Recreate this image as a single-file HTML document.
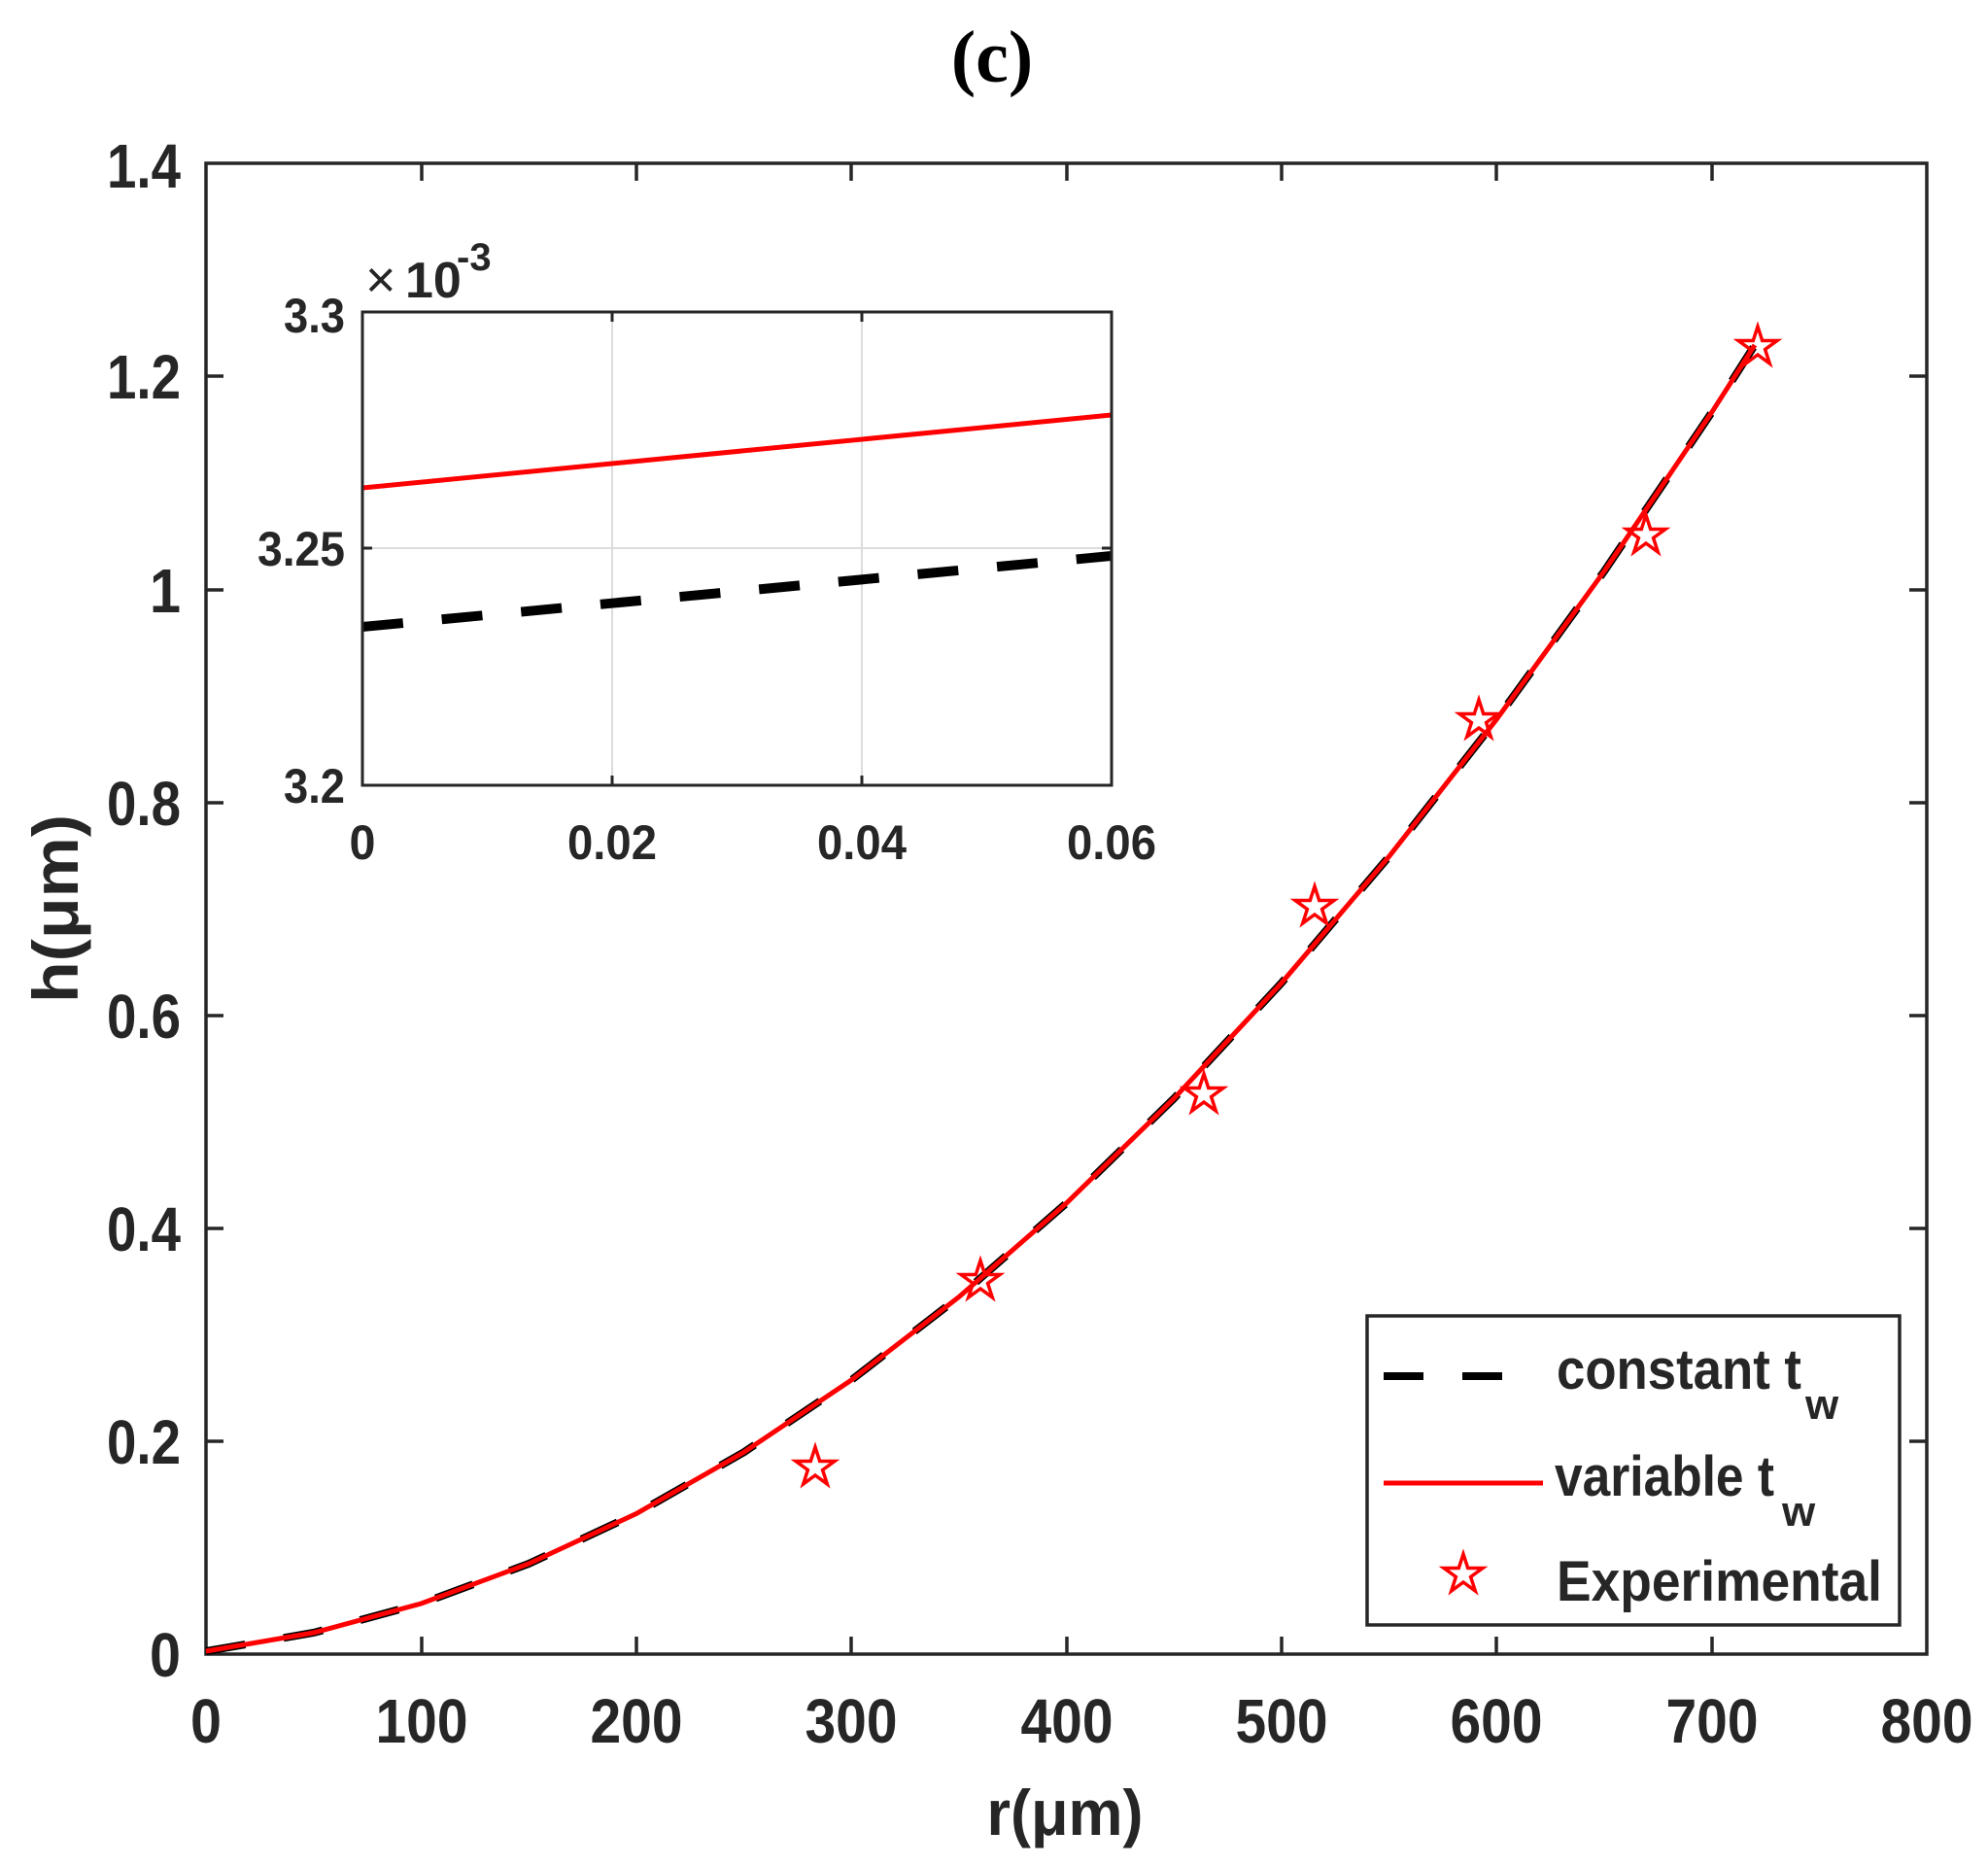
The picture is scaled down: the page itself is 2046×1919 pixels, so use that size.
<!DOCTYPE html>
<html><head><meta charset="utf-8"><style>
html,body{margin:0;padding:0;background:#fff;}
svg{display:block;}
text{font-family:"Liberation Sans",Arial,sans-serif;font-weight:bold;fill:#262626;}
</style></head><body>
<svg width="2046" height="1919" viewBox="0 0 2046 1919" xmlns="http://www.w3.org/2000/svg">
<defs>
<path id="star" d="M0,-21 L4.7,-6.5 L20,-6.5 L7.6,2.5 L12.3,17 L0,8 L-12.3,17 L-7.6,2.5 L-20,-6.5 L-4.7,-6.5 Z" fill="none" stroke="#ff0000" stroke-width="3.5" stroke-linejoin="miter"/>
</defs>
<text x="1021" y="84" text-anchor="middle" style="font-family:'Liberation Serif',serif;font-size:76px;fill:#000">(c)</text>

<rect x="212" y="168" width="1771" height="1534" fill="none" stroke="#262626" stroke-width="3.5"/>
<g stroke="#262626" stroke-width="3.5">
<path d="M434,1702v-18M655,1702v-18M876,1702v-18M1098,1702v-18M1319,1702v-18M1540,1702v-18M1762,1702v-18
M434,168v18M655,168v18M876,168v18M1098,168v18M1319,168v18M1540,168v18M1762,168v18"/>
<path d="M212,1483h18M212,1264h18M212,1045h18M212,826h18M212,607h18M212,387h18
M1983,1483h-18M1983,1264h-18M1983,1045h-18M1983,826h-18M1983,607h-18M1983,387h-18"/>
</g>
<g font-size="64" text-anchor="middle">
<text x="212" y="1793" textLength="32" lengthAdjust="spacingAndGlyphs">0</text>
<text x="434" y="1793" textLength="95" lengthAdjust="spacingAndGlyphs">100</text>
<text x="655" y="1793" textLength="95" lengthAdjust="spacingAndGlyphs">200</text>
<text x="876" y="1793" textLength="95" lengthAdjust="spacingAndGlyphs">300</text>
<text x="1098" y="1793" textLength="95" lengthAdjust="spacingAndGlyphs">400</text>
<text x="1319" y="1793" textLength="95" lengthAdjust="spacingAndGlyphs">500</text>
<text x="1540" y="1793" textLength="95" lengthAdjust="spacingAndGlyphs">600</text>
<text x="1762" y="1793" textLength="95" lengthAdjust="spacingAndGlyphs">700</text>
<text x="1983" y="1793" textLength="95" lengthAdjust="spacingAndGlyphs">800</text>
</g>
<g font-size="64" text-anchor="end">
<text x="186" y="1725" textLength="32" lengthAdjust="spacingAndGlyphs">0</text>
<text x="186" y="1506" textLength="76" lengthAdjust="spacingAndGlyphs">0.2</text>
<text x="186" y="1287" textLength="76" lengthAdjust="spacingAndGlyphs">0.4</text>
<text x="186" y="1068" textLength="76" lengthAdjust="spacingAndGlyphs">0.6</text>
<text x="186" y="849" textLength="76" lengthAdjust="spacingAndGlyphs">0.8</text>
<text x="186" y="630" textLength="32" lengthAdjust="spacingAndGlyphs">1</text>
<text x="186" y="410" textLength="76" lengthAdjust="spacingAndGlyphs">1.2</text>
<text x="186" y="193" textLength="76" lengthAdjust="spacingAndGlyphs">1.4</text>
</g>
<text x="1096" y="1888" font-size="66" text-anchor="middle" textLength="161" lengthAdjust="spacingAndGlyphs">r(μm)</text>
<text transform="translate(80,935) rotate(-90)" font-size="66" text-anchor="middle" textLength="194" lengthAdjust="spacingAndGlyphs">h(μm)</text>

<polyline fill="none" stroke="#000" stroke-width="8" stroke-dasharray="41,40"
 points="212,1699 322.7,1680 433.4,1650 544.1,1609 654.8,1557.5 765.5,1494.3 876.1,1420.1 986.8,1334.6 1097.5,1238 1208.2,1130.3 1318.9,1011.4 1429.6,881.3 1540.3,740.1 1651,587.8 1761.7,424.3 1806,355"/>
<polyline fill="none" stroke="#ff0000" stroke-width="5"
 points="212,1699 322.7,1680 433.4,1650 544.1,1609 654.8,1557.5 765.5,1494.3 876.1,1420.1 986.8,1334.6 1097.5,1238 1208.2,1130.3 1318.9,1011.4 1429.6,881.3 1540.3,740.1 1651,587.8 1761.7,424.3 1806,355"/>
<use href="#star" x="839" y="1510"/>
<use href="#star" x="1009" y="1318"/>
<use href="#star" x="1239" y="1126"/>
<use href="#star" x="1353" y="933"/>
<use href="#star" x="1522" y="741"/>
<use href="#star" x="1694" y="551"/>
<use href="#star" x="1809" y="357"/>

<rect x="373" y="321" width="771" height="487" fill="#fff"/>
<g stroke="#dcdcdc" stroke-width="2">
<path d="M630,321V808M887,321V808M373,564H1144"/>
</g>
<line x1="373" y1="502" x2="1144" y2="427" stroke="#ff0000" stroke-width="5"/>
<line x1="373" y1="645" x2="1144" y2="572" stroke="#000" stroke-width="10" stroke-dasharray="42,40"/>
<rect x="373" y="321" width="771" height="487" fill="none" stroke="#262626" stroke-width="3"/>
<g stroke="#262626" stroke-width="3">
<path d="M630,808v-10M887,808v-10M630,321v10M887,321v10M373,564h10M1144,564h-10"/>
</g>
<g font-size="50" text-anchor="end">
<text x="355" y="342" textLength="63" lengthAdjust="spacingAndGlyphs">3.3</text>
<text x="355" y="582" textLength="90" lengthAdjust="spacingAndGlyphs">3.25</text>
<text x="355" y="826" textLength="63" lengthAdjust="spacingAndGlyphs">3.2</text>
</g>
<g font-size="50" text-anchor="middle">
<text x="373" y="884" textLength="27" lengthAdjust="spacingAndGlyphs">0</text>
<text x="630" y="884" textLength="92" lengthAdjust="spacingAndGlyphs">0.02</text>
<text x="887" y="884" textLength="92" lengthAdjust="spacingAndGlyphs">0.04</text>
<text x="1144" y="884" textLength="92" lengthAdjust="spacingAndGlyphs">0.06</text>
</g>
<text x="376" y="306" font-size="54" style="font-weight:normal">×</text>
<text x="417" y="306" font-size="52">10</text>
<text x="470" y="278" font-size="40">-3</text>

<rect x="1407" y="1354" width="548" height="318" fill="#fff" stroke="#262626" stroke-width="3.5"/>
<line x1="1424" y1="1416" x2="1547" y2="1416" stroke="#000" stroke-width="8" stroke-dasharray="41,40"/>
<line x1="1424" y1="1526" x2="1588" y2="1526" stroke="#ff0000" stroke-width="5"/>
<use href="#star" x="1506" y="1620"/>
<g font-size="58" style="fill:#000">
<text x="1602" y="1429" textLength="252" lengthAdjust="spacingAndGlyphs">constant t</text>
<text x="1858" y="1460" font-size="44">w</text>
<text x="1600" y="1539" textLength="226" lengthAdjust="spacingAndGlyphs">variable t</text>
<text x="1834" y="1570" font-size="44">w</text>
<text x="1602" y="1647" textLength="335" lengthAdjust="spacingAndGlyphs">Experimental</text>
</g>
</svg>
</body></html>
